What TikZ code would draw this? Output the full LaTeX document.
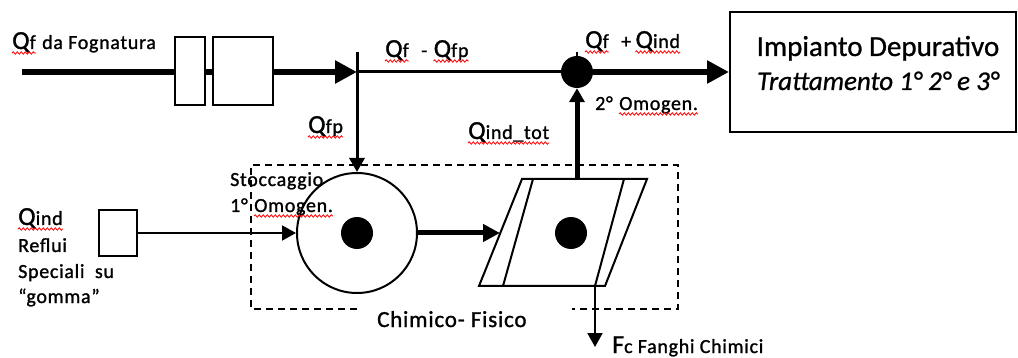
\documentclass[tikz,border=0pt]{standalone}
\usepackage{fontspec}
\setmainfont{Carlito}[FakeBold=0.8]
\newfontfamily\lab{Carlito}[LetterSpace=3.5,FakeBold=1.2]
\usetikzlibrary{arrows.meta,decorations.pathmorphing}
\newcommand\bigQ{{\fontsize{26}{26}\selectfont Q}}
\newcommand\bigF{{\fontsize{26}{26}\selectfont F}}
\newcommand\wave[1]{\draw[spell] ([yshift=-4pt]#1.base west) -- ([yshift=-4pt]#1.base east);}
\begin{document}
\begin{tikzpicture}[x=1pt,y=-1pt,>={Triangle[length=14pt,width=15pt]},font=\lab\fontsize{20}{26}\selectfont,line join=miter,
	box/.style={draw,line width=2pt,fill=white,inner sep=0pt},
	dot/.style={fill,circle,minimum size=32pt,inner sep=0pt},
	txt/.style={inner sep=0pt,anchor=base west},
	spell/.style={red,line width=0.8pt,decorate,decoration={snake,amplitude=1.2pt,segment length=4pt}},
	bigtip/.style={-{Triangle[length=22pt,width=22pt]}}]
	\useasboundingbox (0,0) rectangle (1018,358);
	% linea fognatura
	\coordinate (in) at (22,72);
	\node[box,minimum width=30pt,minimum height=68pt] (grig) at (190,71) {};
	\node[box,minimum width=60pt,minimum height=68pt] (sab) at (243,71) {};
	\coordinate (split) at (357,72);
	\coordinate (splittop) at (357,52);
	\node[dot] (mix) at (577,72) {};
	\coordinate (mixtop) at (577,52);
	\node[box,minimum width=286pt,minimum height=120pt] (dep) at (873,72) {};
	% chimico-fisico
	\node[draw,circle,line width=2pt,minimum size=120pt,inner sep=0pt] (stoc) at (357,233) {};
	\node[dot] (stocdot) at (stoc) {};
	\node[box,minimum width=38pt,minimum height=46pt] (ind) at (118,233) {};
	\coordinate (pin) at (500,233);
	\coordinate (pout) at (577,179);
	\coordinate (pdrain) at (595,286);
	\coordinate (fango) at (595,347);
	\draw[line width=2pt] (479,286) -- (522,179) -- (647,179) -- (605,286) -- cycle;
	\draw[line width=2pt] (533,179) -- (503,286) (624,179) -- (595,286);
	\node[dot] (chimdot) at (571,233) {};
	\draw[line width=2pt,dash pattern=on 7pt off 5pt] (357,309) -- (251,309) -- (251,165) -- (678,165) -- (678,309) -- (572,309);
	% collegamenti
	\draw[line width=6pt,bigtip] (in) -- (grig.west |- in) (grig.east |- in) -- (sab.west |- in) (sab.east |- in) -- (split);
	\draw[line width=3pt,->] (splittop) -- (stoc);
	\draw[line width=3pt] (split) -- (mix);
	\draw[line width=2pt] (mixtop) -- (mix);
	\draw[line width=6pt,bigtip] (mix) -- (dep);
	\draw[line width=5pt,->] (pout) -- (mix);
	\draw[line width=2pt,->] (ind) -- (stoc);
	\draw[line width=5pt,-{Triangle[length=17pt,width=17pt]}] (stoc) -- (pin);
	\draw[line width=2pt,->] (pdrain) -- (fango);
	% etichette
	\node[txt] (lfog) at (12,49) {\bigQ f};
	\node[txt] (lfog2) at ([xshift=6pt]lfog.base east) {da Fognatura};
	\node[txt] (lqf) at (385,57) {\bigQ f};
	\node[txt] (lmeno) at ([xshift=12pt]lqf.base east) {-};
	\node[txt] (lqfp) at ([xshift=6pt]lmeno.base east) {\bigQ fp};
	\node[txt] (lqf2) at (585,48) {\bigQ f};
	\node[txt] (lpiu) at ([xshift=12pt]lqf2.base east) {+};
	\node[txt] (lqind) at ([xshift=4pt]lpiu.base east) {\bigQ ind};
	\node[txt] (lomo) at (595,110) {2°};
	\node[txt] (lomo2) at ([xshift=6pt]lomo.base east) {Omogen.};
	\node[txt] (ltot) at (468,139) {\bigQ ind\_tot};
	\node[txt] (lfp) at (308,133) {\bigQ fp};
	\node[txt] (lsto) at (230,186) {Stoccaggio};
	\node[txt] (lomo1) at (230,212) {1°};
	\node[txt] (lomo3) at ([xshift=6pt]lomo1.base east) {Omogen.};
	\node[txt] (lind) at (18,225) {\bigQ ind};
	\node[txt] (lrefl) at (18,252) {Reflui};
	\node[txt] (lspec) at (18,278) {Speciali\ \ su};
	\node[txt] (lgom) at (18,303) {“gomma”};
	\node[txt,font=\lab\fontsize{23}{26}\selectfont] (lchim) at (377,327) {Chimico- Fisico};
	\node[txt] (lfan) at (612,353) {\bigF c Fanghi Chimici};
	\node[anchor=base,inner sep=0pt,font=\rmfamily\fontsize{29}{34}\selectfont] (ldep) at (878,56) {Impianto Depurativo};
	\node[anchor=base,inner sep=0pt,font=\rmfamily\fontsize{27}{30}\selectfont\itshape] (ltrat) at (878,90) {Trattamento 1° 2° e 3°};
	% sottolineature
	\wave{lfog} \wave{lqf} \wave{lqfp} \wave{lqf2} \wave{lqind} \wave{lomo2}
	\wave{ltot} \wave{lfp} \wave{lomo3} \wave{lind}
\end{tikzpicture}
\end{document}
